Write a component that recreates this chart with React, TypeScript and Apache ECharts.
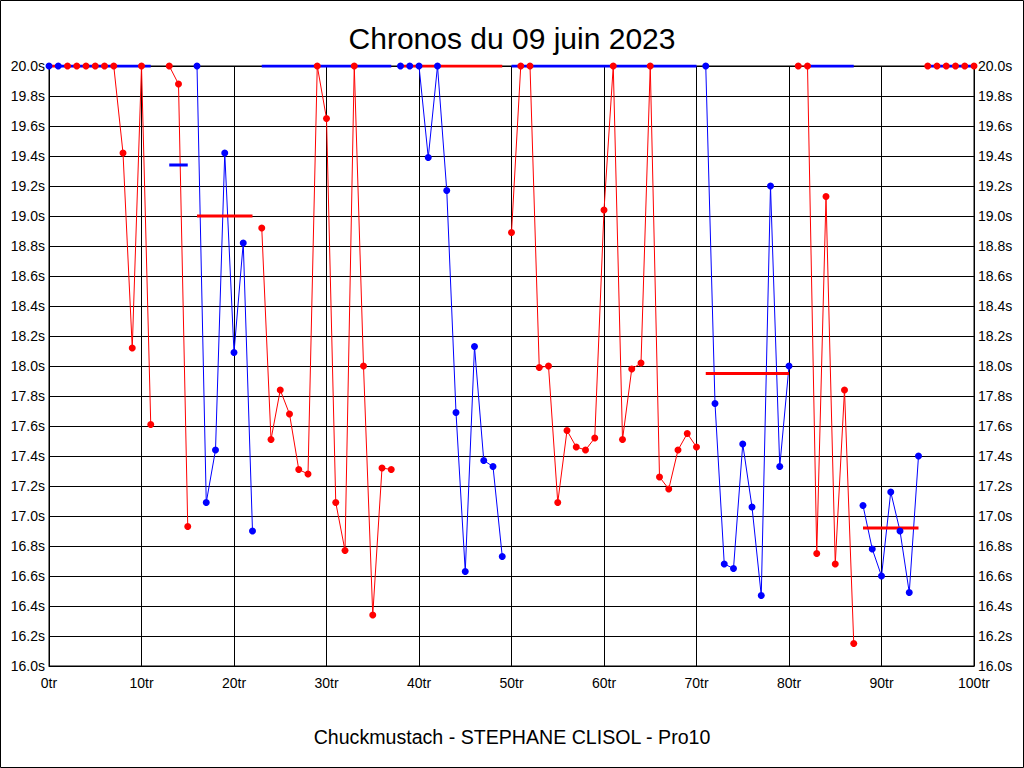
import React, { useEffect, useRef } from "react";
import * as echarts from "echarts";

const RED = "#ff0000";
const BLUE = "#0000ff";
const FONT = "'Liberation Sans', Arial, sans-serif";

const chartTitle = "Chronos du 09 juin 2023";
const chartFooter = "Chuckmustach - STEPHANE CLISOL - Pro10";

// Lap times in seconds, indexed by lap number (null = no time shown)
const lapTimes: (number | null)[] = [
  20.0, 20.0, 20.0, 20.0, 20.0, 20.0, 20.0, 20.0, 19.42, 18.12, // 0-9
  20.0, 17.61, null, 20.0, 19.88, 16.93, 20.0, 17.09, 17.44, 19.42, // 10-19
  18.09, 18.82, 16.9, 18.92, 17.51, 17.84, 17.68, 17.31, 17.28, 20.0, // 20-29
  19.65, 17.09, 16.77, 20.0, 18.0, 16.34, 17.32, 17.31, 20.0, 20.0, // 30-39
  20.0, 19.39, 20.0, 19.17, 17.69, 16.63, 18.13, 17.37, 17.33, 16.73, // 40-49
  18.89, 20.0, 20.0, 17.99, 18.0, 17.09, 17.57, 17.46, 17.44, 17.52, // 50-59
  19.04, 20.0, 17.51, 17.98, 18.02, 20.0, 17.26, 17.18, 17.44, 17.55, // 60-69
  17.46, 20.0, 17.75, 16.68, 16.65, 17.48, 17.06, 16.47, 19.2, 17.33, // 70-79
  18.0, 20.0, 20.0, 16.75, 19.13, 16.68, 17.84, 16.15, 17.07, 16.78, // 80-89
  16.6, 17.16, 16.9, 16.49, 17.4, 20.0, 20.0, 20.0, 20.0, 20.0, // 90-99
  20.0, // 100
];

// Stints: first lap, last lap, colour
const stintStart = [0, 2, 13, 16, 23, 38, 50, 71, 81, 88, 95];
const stintEnd = [1, 11, 15, 22, 37, 49, 70, 80, 87, 94, 100];
const stintColor = ["blue", "red", "red", "blue", "red", "blue", "red", "blue", "red", "blue", "red"];

// Horizontal reference lines: from lap, to lap, level, colour
const refFrom = [0, 1, 13, 16, 23, 38, 50, 71, 82, 88, 95];
const refTo = [1, 11, 15, 22, 37, 49, 70, 80, 87, 94, 100];
const refLevel = [20.0, 20.0, 19.34, 19.0, 20.0, 20.0, 20.0, 17.95, 20.0, 16.92, 20.0];
const refColor = ["red", "blue", "blue", "red", "blue", "red", "blue", "red", "blue", "red", "blue"];

const xMin = 0;
const xMax = 100;
const xStep = 10;
const yMin = 16.0;
const yMax = 20.0;
const yStep = 0.2;

const colorOf = (c: string) => (c === "red" ? RED : BLUE);

export default function App() {
  const ref = useRef<HTMLDivElement>(null);

  useEffect(() => {
    document.body.style.margin = "0";
    if (!ref.current) return;
    const chart = echarts.init(ref.current, null, { renderer: "svg" });

    const series: any[] = [];

    stintStart.forEach((s, i) => {
      const data: [number, number][] = [];
      for (let lap = s; lap <= stintEnd[i]; lap++) {
        const v = lapTimes[lap];
        if (v !== null) data.push([lap, v]);
      }
      series.push({
        type: "line",
        data,
        showSymbol: false,
        symbol: "none",
        lineStyle: { color: colorOf(stintColor[i]), width: 1, opacity: 1 },
        z: 2,
        silent: true,
      });
    });

    refFrom.forEach((f, i) => {
      series.push({
        type: "line",
        data: [
          [f, refLevel[i]],
          [refTo[i], refLevel[i]],
        ],
        showSymbol: false,
        symbol: "none",
        lineStyle: { color: colorOf(refColor[i]), width: 3, opacity: 1 },
        z: 3,
        silent: true,
      });
    });

    ["red", "blue"].forEach((c) => {
      const data: [number, number][] = [];
      stintStart.forEach((s, i) => {
        if (stintColor[i] !== c) return;
        for (let lap = s; lap <= stintEnd[i]; lap++) {
          const v = lapTimes[lap];
          if (v !== null) data.push([lap, v]);
        }
      });
      series.push({
        type: "scatter",
        data,
        symbol: "circle",
        symbolSize: 7,
        itemStyle: { color: colorOf(c), opacity: 1 },
        z: 4,
        silent: true,
      });
    });

    const yLabel = {
      color: "#000",
      fontFamily: FONT,
      fontSize: 14,
      formatter: (v: number) => v.toFixed(1) + "s",
    };

    chart.setOption({
      animation: false,
      backgroundColor: "#fff",
      title: [
        {
          text: chartTitle,
          left: "center",
          top: 18,
          textStyle: { fontFamily: FONT, fontSize: 30, fontWeight: "normal", color: "#000" },
        },
        {
          text: chartFooter,
          left: "center",
          top: 722,
          textStyle: { fontFamily: FONT, fontSize: 19.6, fontWeight: "normal", color: "#000" },
        },
      ],
      graphic: [
        {
          type: "rect",
          shape: { x: 0.5, y: 0.5, width: 1023, height: 767 },
          style: { fill: "none", stroke: "#000", lineWidth: 1 },
          silent: true,
        },
      ],
      grid: {
        left: 49,
        top: 66,
        width: 925,
        height: 600,
        show: true,
        borderColor: "#000",
        borderWidth: 1,
        backgroundColor: "transparent",
      },
      xAxis: {
        type: "value",
        min: xMin,
        max: xMax,
        interval: xStep,
        axisLine: { show: true, lineStyle: { color: "#000", width: 1 } },
        axisTick: { show: false },
        axisLabel: {
          color: "#000",
          fontFamily: FONT,
          fontSize: 14,
          margin: 10,
          formatter: (v: number) => v + "tr",
        },
        splitLine: { show: true, lineStyle: { color: "#000", width: 1 } },
      },
      yAxis: [
        {
          type: "value",
          min: yMin,
          max: yMax,
          interval: yStep,
          position: "left",
          axisLine: { show: true, lineStyle: { color: "#000", width: 1 } },
          axisTick: { show: false },
          axisLabel: { ...yLabel, margin: 4 },
          splitLine: { show: true, lineStyle: { color: "#000", width: 1 } },
        },
        {
          type: "value",
          min: yMin,
          max: yMax,
          interval: yStep,
          position: "right",
          axisLine: { show: true, lineStyle: { color: "#000", width: 1 } },
          axisTick: { show: false },
          axisLabel: { ...yLabel, margin: 4 },
          splitLine: { show: false },
        },
      ],
      series,
    });

    return () => chart.dispose();
  }, []);

  return <div ref={ref} style={{ width: 1024, height: 768 }} />;
}
